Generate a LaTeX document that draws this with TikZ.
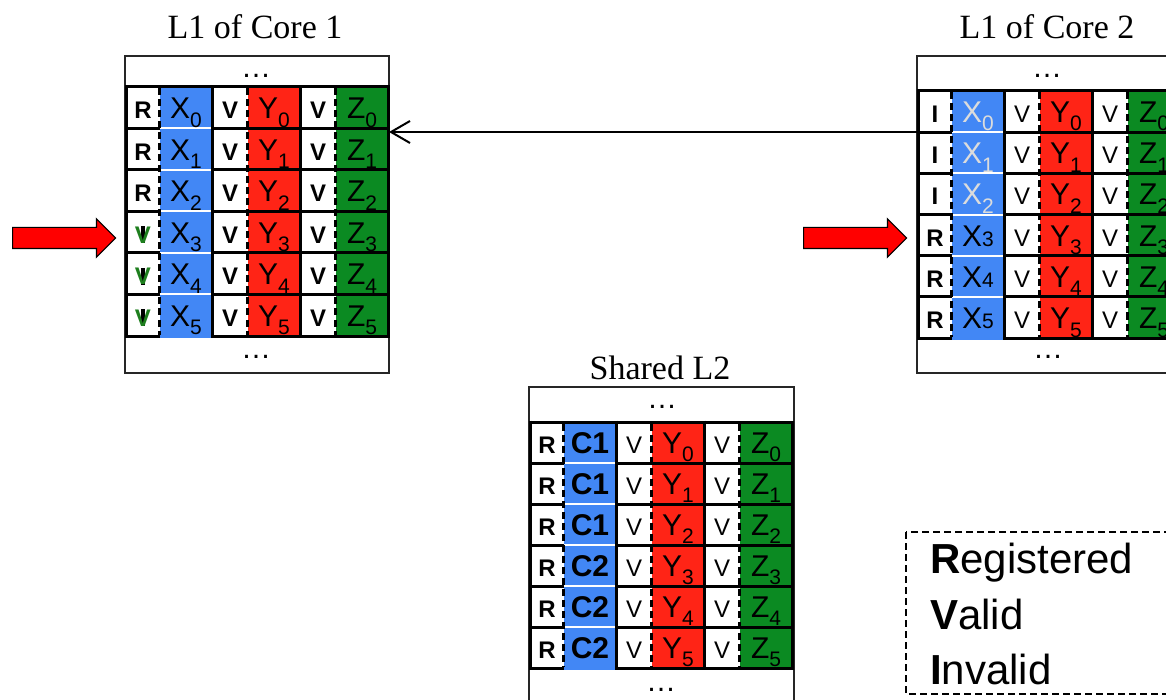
\documentclass[tikz,border=0pt]{standalone}
\usepackage{fontspec}
\setmainfont{Liberation Sans}
\newfontfamily\serifttl{Liberation Serif}
\usetikzlibrary{arrows.meta,shapes.arrows}

\definecolor{xblue}{HTML}{4287F5}
\definecolor{yred}{HTML}{FF2416}
\definecolor{zgreen}{HTML}{0B8A22}
\definecolor{fadetxt}{HTML}{DCDCDC}
\definecolor{vgreen}{HTML}{1E7F1E}

% letter with a lowered index, and with an index kept on the baseline
\newcommand{\sbs}[2]{#1\raisebox{-0.28em}{\fontsize{21}{21}\selectfont #2}}
\newcommand{\sbb}[2]{#1{\fontsize{21}{21}\selectfont #2}}

% grid of six cache lines: #1 = left x, #2 = top y, #3 = line height
\newcommand{\cachegrid}[3]{%
  \fill[yred]   ({#1+121},#2) rectangle ({#1+174},{#2+6*#3});
  \fill[zgreen] ({#1+209},#2) rectangle ({#1+262},{#2+6*#3});
  \foreach \k in {0,...,6}
    \draw[rowline] ({#1-1.5},{#2+\k*#3}) -- ({#1+263.5},{#2+\k*#3});
  \fill[xblue] ({#1+33},{#2+1.5}) rectangle ({#1+86},{#2+6*#3+1.5});
  \foreach \k in {1,...,5}
    \draw[white, line width=2pt] ({#1+33},{#2+\k*#3}) -- ({#1+86},{#2+\k*#3});
  \foreach \xx in {0,86,174,262}
    \draw[rowline] ({#1+\xx},{#2-1.5}) -- ({#1+\xx},{#2+6*#3+1.5});
  \foreach \xx in {33,121,209}
    \draw[divline] ({#1+\xx},{#2+1.5}) -- ({#1+\xx},{#2+6*#3-1.5});
}

\begin{document}
\begin{tikzpicture}[x=1pt,y=-1pt,
  rowline/.style={line width=3pt},
  divline/.style={line width=2.4pt, dash pattern=on 7pt off 4pt},
  cachebox/.style={draw=black!85, line width=1.3pt, fill=white, inner sep=0pt,
    outer sep=0pt, anchor=north west},
  dots/.style={font=\fontsize{30}{30}\selectfont, inner sep=0pt},
  datalbl/.style={font=\fontsize{30}{30}\selectfont, inner sep=0pt, anchor=base},
  statb/.style={font=\fontsize{24}{24}\selectfont\bfseries, inner sep=0pt, anchor=base},
  statr/.style={font=\fontsize{24}{24}\selectfont, inner sep=0pt, anchor=base},
  ttl/.style={font=\serifttl\fontsize{34}{34}\selectfont, inner sep=0pt},
  legendtxt/.style={font=\fontsize{42}{42}\selectfont, anchor=base west, inner sep=0pt},
  bigarrow/.style={single arrow, draw=black, fill=red, line width=1.2pt,
    inner xsep=0pt, inner ysep=10pt, text height=0pt, text depth=0pt,
    single arrow head extend=8.5pt, minimum height=103pt, anchor=tail},
  link/.style={line width=2pt, -{Straight Barb[length=19pt,width=22pt,line width=2pt]}},
  legendbox/.style={draw, line width=1.4pt, dash pattern=on 7pt off 4pt}]

\useasboundingbox (0,0) rectangle (1166,700);
\clip (0,0) rectangle (1166,700);

% ---------- L1 of core 1 ----------
\node[ttl] (t1) at (255,27) {L1 of Core 1};
\node[cachebox, minimum width=264pt, minimum height=317pt] (core1) at (125,56) {};
\node[dots] (c1top) at (256,76) {…};
\node[dots] (c1bot) at (256,357) {…};
\cachegrid{126.5}{87}{41.5}
\foreach \k in {0,...,5} {
  \pgfmathsetmacro{\yb}{87+(\k+0.5)*41.5+11}
  \node[datalbl] (c1x\k) at (186,\yb) {\sbs{X}{\k}};
  \node[datalbl] (c1y\k) at (274,\yb) {\sbs{Y}{\k}};
  \node[datalbl] (c1z\k) at (362,\yb) {\sbs{Z}{\k}};
  \node[statb] (c1vy\k) at (230,\yb) {V};
  \node[statb] (c1vz\k) at (318,\yb) {V};
}
\foreach \k in {0,1,2} {
  \pgfmathsetmacro{\yb}{87+(\k+0.5)*41.5+11}
  \node[statb] (c1s\k) at (143,\yb) {R};
}
% lines that turned valid: a black stroke left under the green mark
\foreach \k in {3,4,5} {
  \pgfmathsetmacro{\yb}{87+(\k+0.5)*41.5+11}
  \fill (141.3,\yb-17) rectangle (145.2,\yb);
  \node[statb, text=vgreen] (c1s\k) at (143,\yb) {V};
}

% ---------- L1 of core 2 ----------
\node[ttl] (t2) at (1047,27) {L1 of Core 2};
\node[cachebox, minimum width=266pt, minimum height=317pt] (core2) at (917,56) {};
\node[dots] (c2top) at (1047,76) {…};
\node[dots] (c2bot) at (1048,357) {…};
\cachegrid{918.5}{91}{41.2}
\foreach \k in {0,...,5} {
  \pgfmathsetmacro{\yb}{91+(\k+0.5)*41.2+11}
  \node[datalbl] (c2y\k) at (1066,\yb) {\sbs{Y}{\k}};
  \node[datalbl] (c2z\k) at (1154,\yb) {\sbs{Z}{\k}};
  \node[statr] (c2vy\k) at (1022,\yb) {V};
  \node[statr] (c2vz\k) at (1110,\yb) {V};
}
\foreach \k in {0,1,2} {
  \pgfmathsetmacro{\yb}{91+(\k+0.5)*41.2+11}
  \node[statb] (c2s\k) at (935,\yb) {I};
  \node[datalbl, text=fadetxt] (c2x\k) at (978,\yb) {\sbs{X}{\k}};
}
\foreach \k in {3,4,5} {
  \pgfmathsetmacro{\yb}{91+(\k+0.5)*41.2+11}
  \node[statb] (c2s\k) at (935,\yb) {R};
  \node[datalbl] (c2x\k) at (978,\yb) {\sbb{X}{\k}};
}

% ---------- shared L2 ----------
\node[ttl] (t3) at (660,368) {Shared L2};
\node[cachebox, minimum width=265pt, minimum height=330pt] (l2) at (529,387) {};
\node[dots] (l2top) at (662,407) {…};
\node[dots] (l2bot) at (661,690) {…};
\cachegrid{530.5}{422}{41}
\foreach \k in {0,...,5} {
  \pgfmathsetmacro{\yb}{422+(\k+0.5)*41+11}
  \node[statb] (l2s\k) at (547,\yb) {R};
  \node[datalbl] (l2y\k) at (678,\yb) {\sbs{Y}{\k}};
  \node[datalbl] (l2z\k) at (766,\yb) {\sbs{Z}{\k}};
  \node[statr] (l2vy\k) at (634,\yb) {V};
  \node[statr] (l2vz\k) at (722,\yb) {V};
}
\foreach \k/\c in {0/1,1/1,2/1,3/2,4/2,5/2} {
  \pgfmathsetmacro{\yb}{422+(\k+0.5)*41+11}
  \node[datalbl, font=\fontsize{30}{30}\selectfont\bfseries] (l2o\k) at (590,\yb) {C\c};
}

% ---------- accesses and the remote request ----------
\node[bigarrow] (acc1) at (12,238) {};
\node[bigarrow] (acc2) at (803,238) {};
\coordinate (lvl) at (0,132);
\draw[link] (core2.west |- lvl) -- (core1.east |- lvl);

% ---------- legend ----------
\draw[legendbox] (906,532) rectangle (1190,694);
\node[legendtxt] (lgR) at (930,573) {\textbf{R}egistered};
\node[legendtxt] (lgV) at (930,629) {\textbf{V}alid};
\node[legendtxt] (lgI) at (930,684) {\textbf{I}nvalid};
\end{tikzpicture}
\end{document}
